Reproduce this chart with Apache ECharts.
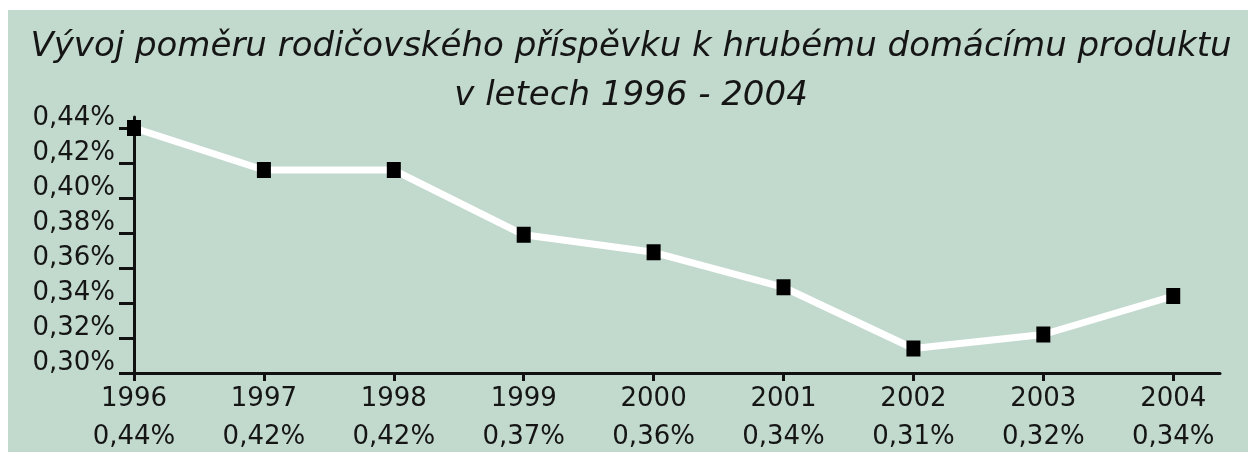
<!DOCTYPE html>
<html>
<head>
<meta charset="utf-8">
<script src="https://cdn.jsdelivr.net/npm/echarts@6/dist/echarts.min.js"></script>
<style>
  html, body { margin: 0; padding: 0; background: #ffffff; }
  #bg { position: absolute; left: 8px; top: 10px; width: 1240px; height: 442px; background: #c2d9cd; }
  #chart { position: absolute; left: 0; top: 0; width: 1248px; height: 452px; }
</style>
</head>
<body>
<div id="bg"></div>
<div id="chart"></div>
<script>
// data
const years = [1996, 1997, 1998, 1999, 2000, 2001, 2002, 2003, 2004];
const shares = [0.440, 0.416, 0.416, 0.379, 0.369, 0.349, 0.314, 0.322, 0.344];
const shareLabels = ["0,44%", "0,42%", "0,42%", "0,37%", "0,36%", "0,34%", "0,31%", "0,32%", "0,34%"];
const yTicks = [0.30, 0.32, 0.34, 0.36, 0.38, 0.40, 0.42, 0.44];

const font = "'DejaVu Sans', sans-serif";
const chart = echarts.init(document.getElementById("chart"));

const points = years.map((y, i) => [y, shares[i]]);

chart.setOption({
  backgroundColor: "transparent",
  animation: false,
  title: {
    text: "Vývoj poměru rodičovského příspěvku k hrubému domácímu produktu\nv letech 1996 - 2004",
    left: 626,
    textAlign: "center",
    top: 18,
    textStyle: {
      fontFamily: font,
      fontStyle: "italic",
      fontWeight: "normal",
      fontSize: 34,
      lineHeight: 49,
      color: "#151515"
    }
  },
  grid: { left: 134, right: 28, top: 117, bottom: 79, containLabel: false, outerBoundsMode: "none" },
  xAxis: {
    type: "value",
    min: 1996,
    max: 2004.36,
    splitLine: { show: false },
    axisLine: { lineStyle: { color: "#111", width: 3 } },
    axisTick: { customValues: years, length: 8, lineStyle: { color: "#111", width: 3 } },
    axisLabel: {
      customValues: years,
      margin: 7,
      fontFamily: font,
      fontSize: 26,
      lineHeight: 38,
      color: "#151515",
      formatter: (v) => {
        const i = years.indexOf(Math.round(v));
        return i < 0 ? "" : years[i] + "\n" + shareLabels[i];
      }
    }
  },
  yAxis: {
    type: "value",
    min: 0.30,
    max: 0.4463,
    splitLine: { show: false },
    axisLine: { show: true, lineStyle: { color: "#111", width: 3 } },
    axisTick: { customValues: yTicks, length: 15, lineStyle: { color: "#111", width: 3 } },
    axisLabel: {
      customValues: yTicks,
      margin: 19,
      fontFamily: font,
      fontSize: 26,
      lineHeight: 20,
      verticalAlign: "bottom",
      color: "#151515",
      formatter: (v) => v.toFixed(2).replace(".", ",") + "%"
    }
  },
  series: [{
    type: "line",
    data: points,
    symbol: "rect",
    symbolSize: [14, 16],
    itemStyle: { color: "#000" },
    lineStyle: { color: "#ffffff", width: 7 }
  }]
});
</script>
</body>
</html>
